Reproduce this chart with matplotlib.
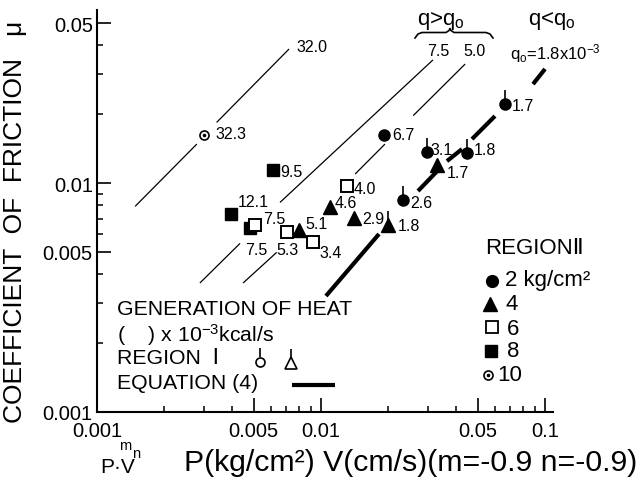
import numpy as np
import matplotlib
matplotlib.use('Agg')
import matplotlib.pyplot as plt
from matplotlib.path import Path

plt.rcParams['font.family'] = ['Liberation Sans', 'DejaVu Sans']
plt.rcParams['mathtext.fontset'] = 'custom'
plt.rcParams['mathtext.rm'] = 'Liberation Sans'
plt.rcParams['mathtext.it'] = 'Liberation Sans'

# ---------------- data ----------------
# Region II, P = 2 kg/cm2 (filled circles)
pv_2 = [0.0192, 0.0297, 0.0450, 0.0663, 0.0233]
mu_2 = [0.0162, 0.0136, 0.0135, 0.0221, 0.00843]
q_2 = ['6.7', '3.1', '1.8', '1.7', '2.6']
reg1_2 = [False, True, True, True, True]
# P = 4 kg/cm2 (filled triangles)
pv_4 = [0.0080, 0.0110, 0.0141, 0.0200, 0.0330]
mu_4 = [0.00625, 0.00784, 0.00704, 0.00656, 0.01195]
q_4 = ['5.1', '4.6', '2.9', '1.8', '1.7']
reg1_4 = [False, False, False, True, False]
# P = 6 kg/cm2 (open squares)
pv_6 = [0.00509, 0.00703, 0.00918, 0.0130]
mu_6 = [0.00656, 0.00610, 0.00551, 0.00970]
q_6 = ['7.5', '5.3', '3.4', '4.0']
# P = 8 kg/cm2 (filled squares)
pv_8 = [0.00609, 0.00397, 0.00484]
mu_8 = [0.0114, 0.00736, 0.00636]
q_8 = ['9.5', '12.1', '7.5']
# P = 10 kg/cm2 (dotted circle)
pv_10 = [0.00301]
mu_10 = [0.0162]
q_10 = ['32.3']

# lines of constant heat generation (segment end points, pairs)
heat_32_x = [0.00148, 0.00279, 0.00342, 0.0072]
heat_32_mu = [0.00791, 0.0148, 0.0184, 0.0385]
heat_75_x = [0.00288, 0.00435, 0.00656, 0.0316]
heat_75_mu = [0.00366, 0.00545, 0.00823, 0.0345]
heat_50_x = [0.00449, 0.00634, 0.0142, 0.0193, 0.0258, 0.0440]
heat_50_mu = [0.00366, 0.00498, 0.01095, 0.0148, 0.0197, 0.0331]
# equation (4) thick line (segment end points, pairs)
eq4_x = [0.01052, 0.01815, 0.0271, 0.0333, 0.0365, 0.0426, 0.0472, 0.0598, 0.0884, 0.1]
eq4_mu = [0.00321, 0.00599, 0.00923, 0.01138, 0.01247, 0.01407, 0.01556, 0.01962, 0.02705, 0.0315]

x_major = [0.001, 0.005, 0.01, 0.05, 0.1]
x_major_lbl = ['0.001', '0.005', '0.01', '0.05', '0.1']
y_major = [0.001, 0.005, 0.01, 0.05]
y_major_lbl = ['0.001', '0.005', '0.01', '0.05']

# ---------------- figure ----------------
W, H = 640, 481
fig = plt.figure(figsize=(W / 100, H / 100), dpi=100)
ax = fig.add_axes([97 / W, 1 - 413 / H, (552.5 - 97) / W, (413 - 11) / H])
ax.set_xscale('log')
ax.set_yscale('log')
ax.set_xlim(0.001, 0.108)
ax.set_ylim(0.001, 0.057)
for s in ['top', 'right']:
    ax.spines[s].set_visible(False)
for s in ['left', 'bottom']:
    ax.spines[s].set_linewidth(1.5)

ax.set_xticks(x_major)
ax.set_xticklabels(x_major_lbl)
xminor = [m * d for d in (0.001, 0.01) for m in (2, 3, 4, 6, 7, 8, 9)]
ax.set_xticks(xminor, minor=True)
ax.set_xticklabels([], minor=True)
ax.set_yticks(y_major)
ax.set_yticklabels(y_major_lbl)
yminor = [m * d for d in (0.001, 0.01) for m in (2, 3, 4, 6, 7, 8, 9) if m * d < 0.05]
ax.set_yticks(yminor, minor=True)
ax.set_yticklabels([], minor=True)
ax.tick_params(which='major', direction='in', length=10, width=1.2, labelsize=14.5)
ax.tick_params(which='minor', direction='in', length=4.5, width=1.1)
ax.tick_params(axis='x', which='major', pad=6.5)
ax.tick_params(axis='y', which='major', pad=3)

# heat lines
for xs, ys in [(heat_32_x, heat_32_mu), (heat_75_x, heat_75_mu), (heat_50_x, heat_50_mu)]:
    for i in range(0, len(xs), 2):
        ax.plot(xs[i:i + 2], ys[i:i + 2], color='k', lw=0.9, solid_capstyle='butt')
for i in range(0, len(eq4_x), 2):
    ax.plot(eq4_x[i:i + 2], eq4_mu[i:i + 2], color='k', lw=3.0, solid_capstyle='butt')

stem = Path([(0, 0.57), (0, 1.6)], [Path.MOVETO, Path.LINETO])


def stems(px, py, flags):
    sx = [a for a, f in zip(px, flags) if f]
    sy = [b for b, f in zip(py, flags) if f]
    ax.plot(sx, sy, ls='none', marker=stem, ms=20, mew=1.2, color='k')


stems(pv_2, mu_2, reg1_2)
stems(pv_4, mu_4, reg1_4)

ax.plot(pv_2, mu_2, ls='none', marker='o', ms=8, color='k')
ax.plot(pv_4, mu_4, ls='none', marker='^', ms=9.5, color='k')
ax.plot(pv_8, mu_8, ls='none', marker='s', ms=8.8, color='k')
ax.plot(pv_6, mu_6, ls='none', marker='s', ms=8.3, mfc='white', mec='k', mew=1.4)
ax.plot(pv_10, mu_10, ls='none', marker='o', ms=6.5, mfc='white', mec='k', mew=1.2)
ax.plot(pv_10, mu_10, ls='none', marker='o', ms=1.6, color='k')

# point labels: offsets in pixels (dx right, dy down)
off_2 = [(8, -1), (3.5, -3), (6, -4), (7, 1), (7, 2)]
off_4 = [(6, -6), (4, -5), (7.5, 1), (9, 1), (10, 7)]
off_6 = [(8, -6), (-10, 17), (7, 10), (7, 2)]
off_8 = [(7, 1), (7, -12.5), (-5.5, 21)]
off_10 = [(11, -2)]
for px, py, lbls, offs in [(pv_2, mu_2, q_2, off_2), (pv_4, mu_4, q_4, off_4),
                            (pv_6, mu_6, q_6, off_6), (pv_8, mu_8, q_8, off_8),
                            (pv_10, mu_10, q_10, off_10)]:
    for a, b, t, (dx, dy) in zip(px, py, lbls, offs):
        ax.annotate(t, (a, b), xytext=(dx * 0.72, -dy * 0.72), textcoords='offset points',
                    ha='left', va='center', fontsize=11.5)

# ---------------- overlay in pixel coordinates ----------------
ov = fig.add_axes([0, 0, 1, 1])
ov.set_xlim(0, W)
ov.set_ylim(H, 0)
ov.axis('off')
ov.patch.set_alpha(0)

ov.text(15, 222, 'COEFFICIENT  OF  FRICTION   \u03bc', rotation=90, ha='center', va='center', fontsize=19)
ov.text(119, 446, 'm', fontsize=10.5, ha='left', va='center')
ov.text(100, 468, 'P\u00b7V', fontsize=15, ha='left', va='center')
ov.text(132, 454, 'n', fontsize=10.5, ha='left', va='center')
ov.text(184, 463, 'P(kg/cm\u00b2) V(cm/s)(m=-0.9 n=-0.9)', fontsize=21.8, ha='left', va='center')

ov.text(117, 310, 'GENERATION OF HEAT', fontsize=15.3, ha='left', va='center')
ov.text(117, 335, r'(    ) x 10$^{-3}$kcal/s', fontsize=15.3, ha='left', va='center')
ov.text(117, 359, 'REGION  \u2160', fontsize=15.3, ha='left', va='center')
ov.text(117, 384, 'EQUATION (4)', fontsize=15.3, ha='left', va='center')
ov.plot([260], [363], marker=stem, ms=20, mew=1.2, color='k', ls='none')
ov.plot([260], [363], marker='o', ms=6.5, mfc='white', mec='k', mew=1.2, ls='none')
ov.plot([291], [364], marker=stem, ms=20, mew=1.2, color='k', ls='none')
ov.plot([291], [364], marker='^', ms=8, mfc='white', mec='k', mew=1.2, ls='none')
ov.plot([292, 335], [386, 386], color='k', lw=3.0, solid_capstyle='butt')

ov.text(485, 249, 'REGION\u2161', fontsize=16, ha='left', va='center')
ov.plot([491.7], [281.7], marker='o', ms=8.5, color='k', ls='none')
ov.text(505, 281, '2 kg/cm\u00b2', fontsize=16, ha='left', va='center')
ov.plot([490], [305], marker='^', ms=10, color='k', ls='none')
ov.text(505, 305, '4', fontsize=16, ha='left', va='center')
ov.plot([491.7], [328.3], marker='s', ms=8, mfc='white', mec='k', mew=1.3, ls='none')
ov.text(507, 330, '6', fontsize=16, ha='left', va='center')
ov.plot([490.7], [351.7], marker='s', ms=8.5, color='k', ls='none')
ov.text(507, 352, '8', fontsize=16, ha='left', va='center')
ov.plot([488.3], [376], marker='o', ms=6.5, mfc='white', mec='k', mew=1.2, ls='none')
ov.plot([488.3], [376], marker='o', ms=1.6, color='k', ls='none')
ov.text(497, 376, '10', fontsize=16, ha='left', va='center')

ov.text(417, 21, r'q>q$_\mathrm{o}$', fontsize=16, ha='left', va='center')
ov.text(528, 21, r'q<q$_\mathrm{o}$', fontsize=16, ha='left', va='center')
ov.plot([415, 418, 422, 446, 449, 450, 451, 454, 486, 490, 493],
        [39, 35, 33.5, 33.5, 31.5, 29.5, 31.5, 33.5, 33.5, 35, 39], color='k', lw=1.2)
ov.text(427, 52, '7.5', fontsize=11.5, ha='left', va='center')
ov.text(463, 52, '5.0', fontsize=11.5, ha='left', va='center')
ov.text(510, 54, r'q$_\mathrm{o}$=1.8x10$^{-3}$', fontsize=12, ha='left', va='center')
ov.text(296, 48, '32.0', fontsize=11.5, ha='left', va='center')

fig.savefig('out.png', dpi=100)
